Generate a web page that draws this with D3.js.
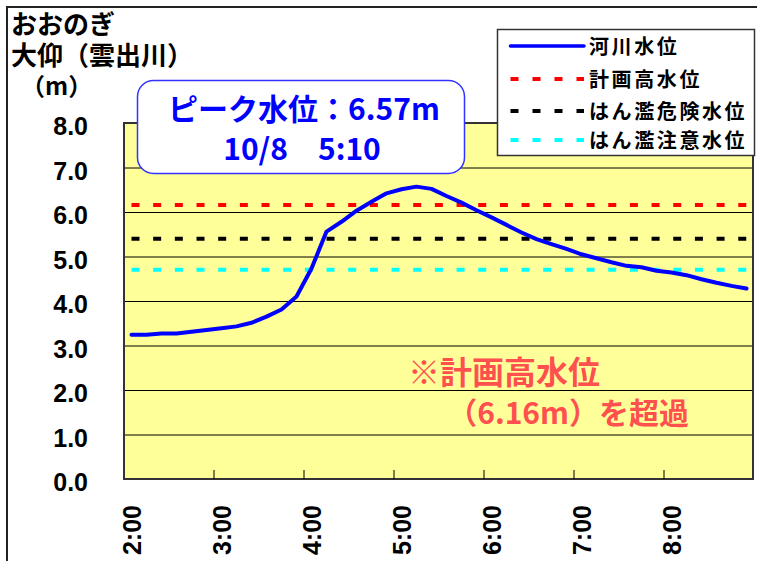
<!DOCTYPE html>
<html lang="ja">
<head>
<meta charset="utf-8">
<script src="https://cdn.jsdelivr.net/npm/d3@7/dist/d3.min.js"></script>
<style>
  html, body { margin: 0; padding: 0; background: #fff; }
  svg { display: block; }
  .num { font-family: "Liberation Sans", Arial, sans-serif; font-weight: bold; }
  .jp { font-family: "Noto Sans CJK JP", sans-serif; font-weight: bold; }
</style>
</head>
<body>
<svg id="chart" width="757" height="561"></svg>
<script>
// 10-minute observation times (category axis)
const times = [
  "2:00","2:10","2:20","2:30","2:40","2:50",
  "3:00","3:10","3:20","3:30","3:40","3:50",
  "4:00","4:10","4:20","4:30","4:40","4:50",
  "5:00","5:10","5:20","5:30","5:40","5:50",
  "6:00","6:10","6:20","6:30","6:40","6:50",
  "7:00","7:10","7:20","7:30","7:40","7:50",
  "8:00","8:10","8:20","8:30","8:40","8:50"
];

// River water level (m)
const waterLevel = [
  3.24, 3.24, 3.27, 3.27, 3.31, 3.35,
  3.39, 3.43, 3.51, 3.65, 3.81, 4.10,
  4.73, 5.56, 5.78, 6.03, 6.23, 6.42,
  6.51, 6.57, 6.52, 6.36, 6.21, 6.04,
  5.88, 5.71, 5.54, 5.39, 5.28, 5.17,
  5.05, 4.96, 4.87, 4.79, 4.76, 4.68,
  4.64, 4.58, 4.49, 4.41, 4.34, 4.28
];

// Reference levels (m)
const levelNames  = ["計画高水位", "はん濫危険水位", "はん濫注意水位"];
const levelValues = [6.16, 5.40, 4.70];

// Axis tick labels
const yTicks = [0, 1, 2, 3, 4, 5, 6, 7, 8];
const xLabelTimes = ["2:00", "3:00", "4:00", "5:00", "6:00", "7:00", "8:00"];

// Legend entries
const legendLabels = ["河川水位", "計画高水位", "はん濫危険水位", "はん濫注意水位"];

// Texts
const titleLines = ["おおのぎ", "大仰（雲出川）"];
const unitLabel = "（m）";
const peakLines = ["ピーク水位：6.57m", "10/8　5:10"];
const noteLines = ["※計画高水位", "（6.16m）を超過"];

// ---- styles ----
const levelColors = { "計画高水位": "#ff0000", "はん濫危険水位": "#000000", "はん濫注意水位": "#00ffff" };
const lineColor = "#0000ff";

const svg = d3.select("#chart");
const plot = { left: 124, right: 754, top: 123, bottom: 479 };

// outer chart frame
svg.append("rect")
  .attr("x", 7).attr("y", 7).attr("width", 780).attr("height", 600)
  .attr("fill", "#fff").attr("stroke", "#222").attr("stroke-width", 2);

const x = d3.scaleBand().domain(times).range([plot.left, plot.right]).paddingInner(0).paddingOuter(0);
const cx = t => x(t) + x.bandwidth() / 2;
const y = d3.scaleLinear().domain([0, 8]).range([plot.bottom, plot.top]);

// plot background
svg.append("rect")
  .attr("x", plot.left).attr("y", plot.top)
  .attr("width", plot.right - plot.left - 1).attr("height", plot.bottom - plot.top)
  .attr("fill", "#ffff99");

// horizontal gridlines
const grid = svg.append("g")
  .attr("transform", `translate(${plot.left},0)`)
  .call(d3.axisLeft(y).tickValues(yTicks).tickSize(-(plot.right - plot.left)).tickFormat(""));
grid.select(".domain").remove();
grid.selectAll("line").attr("stroke", "#000").attr("stroke-width", 1);

// y tick labels
svg.append("g").selectAll("text")
  .data(yTicks)
  .join("text")
  .attr("class", "num")
  .attr("x", 88)
  .attr("y", d => y(d) + 12)
  .attr("text-anchor", "end")
  .attr("font-size", 25)
  .attr("fill", "#000")
  .text(d => d.toFixed(1));

// reference dashed lines
const first = times[0], last = times[times.length - 1];
svg.append("g").selectAll("line")
  .data(levelValues)
  .join("line")
  .attr("x1", cx(first)).attr("x2", cx(last))
  .attr("y1", d => y(d)).attr("y2", d => y(d))
  .attr("stroke", (d, i) => levelColors[levelNames[i]])
  .attr("stroke-width", 4)
  .attr("stroke-dasharray", "8,13.67");

// water level line
const line = d3.line()
  .x((d, i) => cx(times[i]))
  .y(d => y(d));
svg.append("path")
  .datum(waterLevel)
  .attr("d", line)
  .attr("fill", "none")
  .attr("stroke", lineColor)
  .attr("stroke-width", 4)
  .attr("stroke-linejoin", "round")
  .attr("stroke-linecap", "round");

// plot frame
svg.append("rect")
  .attr("x", plot.left).attr("y", plot.top)
  .attr("width", plot.right - plot.left - 1).attr("height", plot.bottom - plot.top)
  .attr("fill", "none").attr("stroke", "#333").attr("stroke-width", 2);

// x tick marks at hour boundaries (pointing inward)
svg.append("g").selectAll("line")
  .data(xLabelTimes.slice(1))
  .join("line")
  .attr("x1", d => x(d)).attr("x2", d => x(d))
  .attr("y1", plot.bottom).attr("y2", plot.bottom - 9)
  .attr("stroke", "#000").attr("stroke-width", 1);

// x labels (rotated)
svg.append("g").selectAll("text")
  .data(xLabelTimes)
  .join("text")
  .attr("class", "num")
  .attr("transform", d => `translate(${cx(d) + 9},505) rotate(-90)`)
  .attr("text-anchor", "end")
  .attr("font-size", 25)
  .attr("fill", "#000")
  .text(d => d);

// title block: station name, river, unit (one multi-line text)
const title = svg.append("text")
  .attr("class", "jp")
  .attr("fill", "#000");
title.selectAll("tspan.t")
  .data(titleLines)
  .join("tspan")
  .attr("class", "t")
  .attr("x", 11)
  .attr("y", (d, i) => 34 + i * 31)
  .attr("font-size", 26)
  .text(d => d);
title.append("tspan")
  .attr("x", 21).attr("y", 95)
  .attr("font-size", 24)
  .text(unitLabel);

// peak box
svg.append("rect")
  .attr("x", 137.5).attr("y", 80.5).attr("width", 327).attr("height", 93)
  .attr("rx", 16).attr("ry", 16)
  .attr("fill", "#fff").attr("stroke", "#3333ff").attr("stroke-width", 1.5);
svg.append("g").selectAll("text")
  .data(peakLines)
  .join("text")
  .attr("class", "jp")
  .attr("x", (d, i) => i === 0 ? 304 : 302)
  .attr("y", (d, i) => 120 + i * 40)
  .attr("text-anchor", "middle")
  .attr("font-size", 30)
  .attr("fill", "#0000ff")
  .text(d => d);

// legend
const lg = svg.append("g");
lg.append("rect")
  .attr("x", 497.5).attr("y", 29.5).attr("width", 257).attr("height", 126)
  .attr("fill", "#fff").attr("stroke", "#333").attr("stroke-width", 1.5);
const rowY = [46, 79, 111, 140];
legendLabels.forEach((name, i) => {
  const ln = lg.append("line")
    .attr("x1", 510.5).attr("x2", 584).attr("y1", rowY[i]).attr("y2", rowY[i]);
  if (i === 0) {
    ln.attr("stroke", lineColor).attr("stroke-width", 3.5).attr("stroke-linecap", "round");
  } else {
    ln.attr("stroke", levelColors[name]).attr("stroke-width", 4).attr("stroke-dasharray", "8,14");
  }
  lg.append("text")
    .attr("class", "jp")
    .attr("x", 589).attr("y", rowY[i] + 7.5)
    .attr("font-size", 20)
    .attr("letter-spacing", 2.6)
    .attr("fill", "#000")
    .text(name);
});

// exceedance note
svg.append("text")
  .attr("class", "jp")
  .attr("x", 408).attr("y", 384)
  .attr("font-size", 32)
  .attr("fill", "#ff5050")
  .text(noteLines[0]);
svg.append("text")
  .attr("class", "jp")
  .attr("x", 689).attr("y", 424)
  .attr("text-anchor", "end")
  .attr("font-size", 30)
  .attr("fill", "#ff5050")
  .text(noteLines[1]);
</script>
</body>
</html>
